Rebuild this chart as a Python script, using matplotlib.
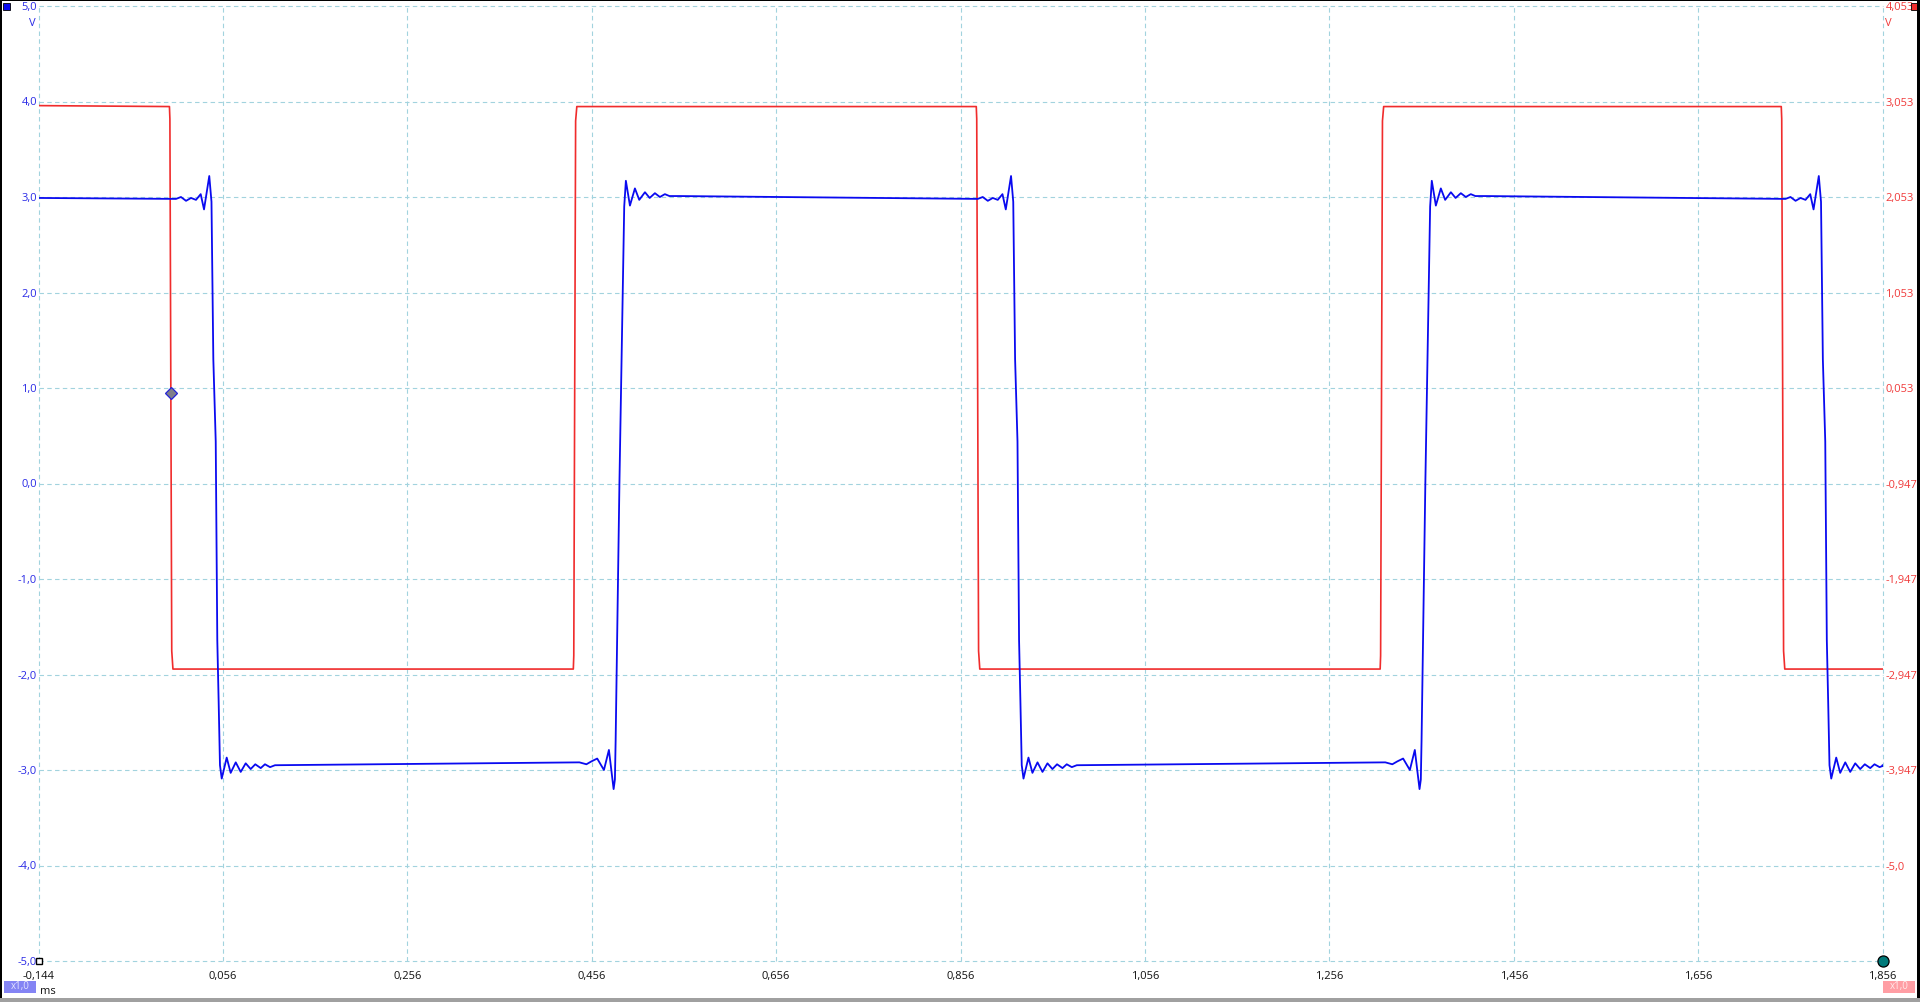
import matplotlib.pyplot as plt
from matplotlib.patches import Rectangle

plt.rcParams["font.family"] = ["Open Sans", "DejaVu Sans"]

W, H = 1920, 1002

# time axis (ms)
t_min, t_max = -0.144, 1.856
x_ticks = [-0.144, 0.056, 0.256, 0.456, 0.656, 0.856, 1.056, 1.256, 1.456, 1.656, 1.856]
x_labels = ["-0,144", "0,056", "0,256", "0,456", "0,656", "0,856",
            "1,056", "1,256", "1,456", "1,656", "1,856"]

# channel A (blue, left axis)
left_ticks = [5, 4, 3, 2, 1, 0, -1, -2, -3, -4, -5]
left_labels = ["5,0", "4,0", "3,0", "2,0", "1,0", "0,0",
               "-1,0", "-2,0", "-3,0", "-4,0", "-5,0"]

# channel B (red, right axis)
right_ticks = [4.053, 3.053, 2.053, 1.053, 0.053, -0.947,
               -1.947, -2.947, -3.947, -4.947, -5.947]
right_labels = ["4,053", "3,053", "2,053", "1,053", "0,053", "-0,947",
                "-1,947", "-2,947", "-3,947", "-5,0", ""]

# red square wave: edge times and edge shapes
red_start_v = 3.01
red_fall_times = [0.0, 0.875, 1.748]
red_rise_times = [0.438, 1.313]
red_fall_dt = [-0.002, -0.0015, 0.0005, 0.0018]
red_fall_v = [3.00, 2.87, -2.70, -2.89]
red_rise_dt = [-0.002, -0.0015, 0.0005, 0.0018]
red_rise_v = [-2.89, -2.75, 2.85, 3.00]

# blue filtered wave: edge times and ringing
blue_start_v = 2.99
blue_fall_times = [0.0485, 0.918, 1.794]
blue_rise_times = [0.486, 1.360]
blue_fall_dt = [-0.0434, -0.0380, -0.0325, -0.0271, -0.0217, -0.0166, -0.0130,
                -0.0073, -0.0049, -0.0029, -0.0003, 0.0014, 0.0029, 0.0043,
                0.0062, 0.0116, 0.0159, 0.0214, 0.0268, 0.0322, 0.0376, 0.0426,
                0.0485, 0.0531, 0.0586, 0.0640]
blue_fall_v = [2.98, 3.00, 2.96, 2.99, 2.97, 3.03, 2.87,
               3.22, 2.95, 1.30, 0.44, -1.64, -2.30, -2.95,
               -3.09, -2.87, -3.03, -2.92, -3.02, -2.93, -2.99, -2.94,
               -2.98, -2.94, -2.97, -2.95]
blue_rise_dt = [-0.0434, -0.0358, -0.0304, -0.0241, -0.0168, -0.0114, -0.0063,
                -0.0049, -0.0041, 0.0, 0.0052, 0.0070, 0.0114, 0.0168,
                0.0215, 0.0277, 0.0328, 0.0385, 0.0439, 0.0493, 0.0542, 0.0651]
blue_rise_v = [-2.92, -2.94, -2.91, -2.88, -3.00, -2.79, -3.20,
               -3.10, -2.69, 0.0, 2.90, 3.17, 2.91, 3.09,
               2.97, 3.05, 2.99, 3.04, 3.00, 3.03, 3.01, 3.01]

trigger_t, trigger_v = 0.0, 0.0

RED = "#F02C2C"
BLUE = "#0A0AF0"
GRID = "#A2D3DE"


def trace(start_v, falls, rises, fall_dt, fall_v, rise_dt, rise_v):
    events = [(t, fall_dt, fall_v) for t in falls] + [(t, rise_dt, rise_v) for t in rises]
    events.sort(key=lambda e: e[0])
    ts, vs = [t_min], [start_v]
    for t0, dts, vals in events:
        ts += [t0 + d for d in dts]
        vs += list(vals)
    ts.append(t_max)
    vs.append(vs[-1])
    return ts, vs


def fx(x):
    return x / W


def fy(y):
    return 1 - y / H


fig = plt.figure(figsize=(W / 100, H / 100), dpi=100)
ax = fig.add_axes([fx(38.5), fy(961), (1882.7 - 38.5) / W, (961 - 6) / H])
ax2 = ax.twinx()

ax.set_xlim(t_min, t_max)
ax.set_ylim(-5, 5)
ax2.set_ylim(-5.947, 4.053)

for a in (ax, ax2):
    for s in a.spines.values():
        s.set_visible(False)

ax.set_xticks(x_ticks, x_labels)
ax.set_yticks(left_ticks, left_labels)
ax2.set_yticks(right_ticks, right_labels)
ax2.xaxis.set_visible(True)

ax.tick_params(axis="x", length=0, pad=7, labelsize=8, labelcolor="#111111")
ax.tick_params(axis="y", length=0, pad=1, labelsize=8, labelcolor="#2A2AE6")
ax2.tick_params(axis="x", length=0, labelbottom=False, labeltop=False)
ax2.tick_params(axis="y", length=0, pad=2, labelsize=8, labelcolor="#F03A3A")

ax2.grid(True, color=GRID, linestyle=(0, (4, 3)), linewidth=0.8)
for ln in ax2.get_xgridlines() + ax2.get_ygridlines():
    ln.set_clip_on(False)

# blue channel drawn above the red one
ax.set_zorder(ax2.get_zorder() + 1)
ax.patch.set_visible(False)

rt, rv = trace(red_start_v, red_fall_times, red_rise_times,
               red_fall_dt, red_fall_v, red_rise_dt, red_rise_v)
ax2.plot(rt, rv, color=RED, linewidth=1.2)

bt, bv = trace(blue_start_v, blue_fall_times, blue_rise_times,
               blue_fall_dt, blue_fall_v, blue_rise_dt, blue_rise_v)
ax.plot(bt, bv, color=BLUE, linewidth=1.3)

# trigger marker
ax2.plot([trigger_t], [trigger_v], marker="D", markersize=6.5,
         markerfacecolor="#7F7F8A", markeredgecolor="#2323D8", markeredgewidth=0.9)

# ruler markers at the bottom corners
ax.plot([t_min], [-5], marker="s", markersize=4.5, markerfacecolor="white",
        markeredgecolor="black", markeredgewidth=1, clip_on=False)
ax.plot([t_max], [-5], marker="o", markersize=8, markerfacecolor="#007A7A",
        markeredgecolor="black", markeredgewidth=0.9, clip_on=False)

# unit labels
fig.text(fx(32), fy(23), "V", color="#2A2AE6", fontsize=8, ha="center", va="center")
fig.text(fx(1888), fy(23), "V", color="#F03A3A", fontsize=8, ha="center", va="center")
fig.text(fx(40), fy(991), "ms", color="#111111", fontsize=8, ha="left", va="center")

# channel badges
fig.patches.append(Rectangle((fx(4), fy(993)), 32 / W, 12 / H, transform=fig.transFigure,
                             facecolor="#8484F4", edgecolor="none"))
fig.text(fx(20), fy(987), "x1,0", color="#E4E4FF", fontsize=7, ha="center", va="center")
fig.patches.append(Rectangle((fx(1883), fy(993)), 32 / W, 12 / H, transform=fig.transFigure,
                             facecolor="#FF9EA4", edgecolor="none"))
fig.text(fx(1899), fy(987), "x1,0", color="#FFEAEA", fontsize=7, ha="center", va="center")

# window decoration
fig.patches.append(Rectangle((fx(3), fy(10)), 7 / W, 7 / H, transform=fig.transFigure,
                             facecolor="#0A0AF0", edgecolor="black", linewidth=0.6))
fig.patches.append(Rectangle((fx(1910.5), fy(10)), 7 / W, 7 / H, transform=fig.transFigure,
                             facecolor="#F02C2C", edgecolor="black", linewidth=0.6))
fig.patches.append(Rectangle((0, 0), 2 / W, 1, transform=fig.transFigure,
                             facecolor="black", edgecolor="none"))
fig.patches.append(Rectangle((fx(1917), 0), 3 / W, 1, transform=fig.transFigure,
                             facecolor="black", edgecolor="none"))
fig.patches.append(Rectangle((0, fy(1)), 1, 1 / H, transform=fig.transFigure,
                             facecolor="black", edgecolor="none"))
fig.patches.append(Rectangle((0, 0), 1, 4 / H, transform=fig.transFigure,
                             facecolor="#A0A0A0", edgecolor="none"))

fig.savefig("out.png", dpi=100)
